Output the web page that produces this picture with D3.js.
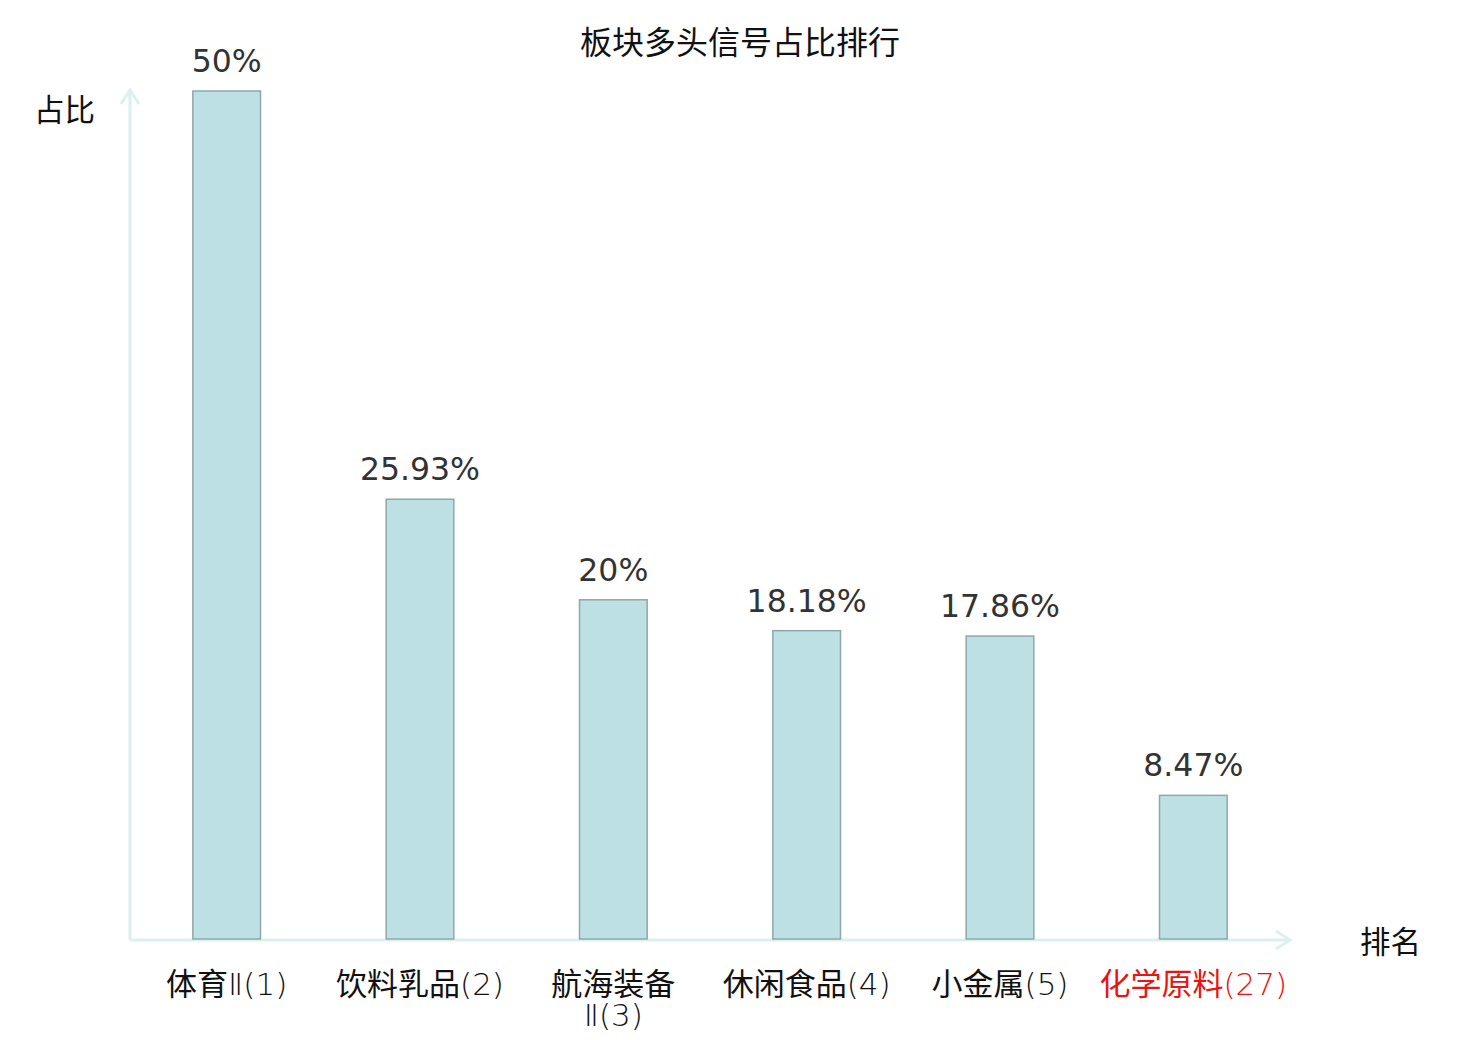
<!DOCTYPE html>
<html><head><meta charset="utf-8">
<script src="https://cdn.jsdelivr.net/npm/d3@7/dist/d3.min.js"></script>
<style>body{margin:0;background:#fff;}svg{display:block;}</style>
</head><body>
<svg id="c" width="1480" height="1040"></svg>
<script>
const categories = ["体育Ⅱ(1)", "饮料乳品(2)", "航海装备\nⅡ(3)", "休闲食品(4)", "小金属(5)", "化学原料(27)"];
const values = [50, 25.93, 20, 18.18, 17.86, 8.47];
const valueLabels = ["50%", "25.93%", "20%", "18.18%", "17.86%", "8.47%"];
const highlight = [false, false, false, false, false, true];

const svg = d3.select("#c");
const x0 = 130, x1 = 1290, yBase = 939, yTop = 91;
const x = d3.scaleBand().domain(categories).range([x0, x1]).padding(0);
const y = d3.scaleLinear().domain([0, 50]).range([yBase, yTop]);
const bw = x.bandwidth() * 0.35;
const axisColor = "#dcf1ee";
const cjk = "'Noto Sans CJK SC', 'DejaVu Sans', sans-serif";
const num = "'DejaVu Sans', 'Noto Sans CJK SC', sans-serif";

// title
svg.append("text").attr("x", 740).attr("y", 54).attr("text-anchor", "middle")
  .attr("font-family", cjk).attr("font-size", 32).attr("fill", "#111").text("板块多头信号占比排行");

// axes
svg.append("line").attr("x1", x0).attr("y1", 940).attr("x2", x0).attr("y2", 90)
  .attr("stroke", axisColor).attr("stroke-width", 3);
svg.append("path").attr("d", `M${x0-9},${104} L${x0},${90} L${x0+9},${104}`)
  .attr("fill", "none").attr("stroke", axisColor).attr("stroke-width", 3);
svg.append("line").attr("x1", x0).attr("y1", 940).attr("x2", x1).attr("y2", 940)
  .attr("stroke", axisColor).attr("stroke-width", 3);
svg.append("path").attr("d", `M${x1-14},${931} L${x1},${940} L${x1-14},${949}`)
  .attr("fill", "none").attr("stroke", axisColor).attr("stroke-width", 3);

svg.append("text").attr("x", 34).attr("y", 121).attr("font-family", cjk).attr("font-size", 30.5)
  .attr("fill", "#111").text("占比");
svg.append("text").attr("x", 1360).attr("y", 953).attr("font-family", cjk).attr("font-size", 30.5)
  .attr("fill", "#111").text("排名");

// bars
svg.selectAll("rect.bar").data(values).join("rect").attr("class", "bar")
  .attr("x", (d, i) => x(categories[i]) + (x.bandwidth() - bw) / 2)
  .attr("y", d => y(d))
  .attr("width", bw)
  .attr("height", d => yBase - y(d))
  .attr("fill", "#bce0e3").attr("stroke", "#8ea8aa").attr("stroke-width", 1.5);

// value labels
svg.selectAll("text.val").data(values).join("text").attr("class", "val")
  .attr("x", (d, i) => x(categories[i]) + x.bandwidth() / 2)
  .attr("y", d => y(d) - 19)
  .attr("text-anchor", "middle").attr("font-family", num).attr("font-size", 31.5)
  .attr("fill", "#333").text((d, i) => valueLabels[i]);

// category labels
categories.forEach((c, i) => {
  const t = svg.append("text").attr("text-anchor", "middle")
    .attr("font-size", 31).attr("fill", highlight[i] ? "#e8140f" : "#111");
  c.split("\n").forEach((line, j) => {
    const ts = t.append("tspan").attr("x", x(c) + x.bandwidth() / 2).attr("y", 995 + j * 31);
    const parts = line.match(/[\u4e00-\u9fff]+|[^\u4e00-\u9fff]+/g);
    parts.forEach((p, k) => {
      const isCjk = /[\u4e00-\u9fff]/.test(p);
      const s = k === 0 ? ts : t.append("tspan");
      s.text(p).attr("font-family", isCjk ? cjk : num).attr("font-weight", isCjk ? 400 : 200);
    });
  });
});
</script>
</body></html>
